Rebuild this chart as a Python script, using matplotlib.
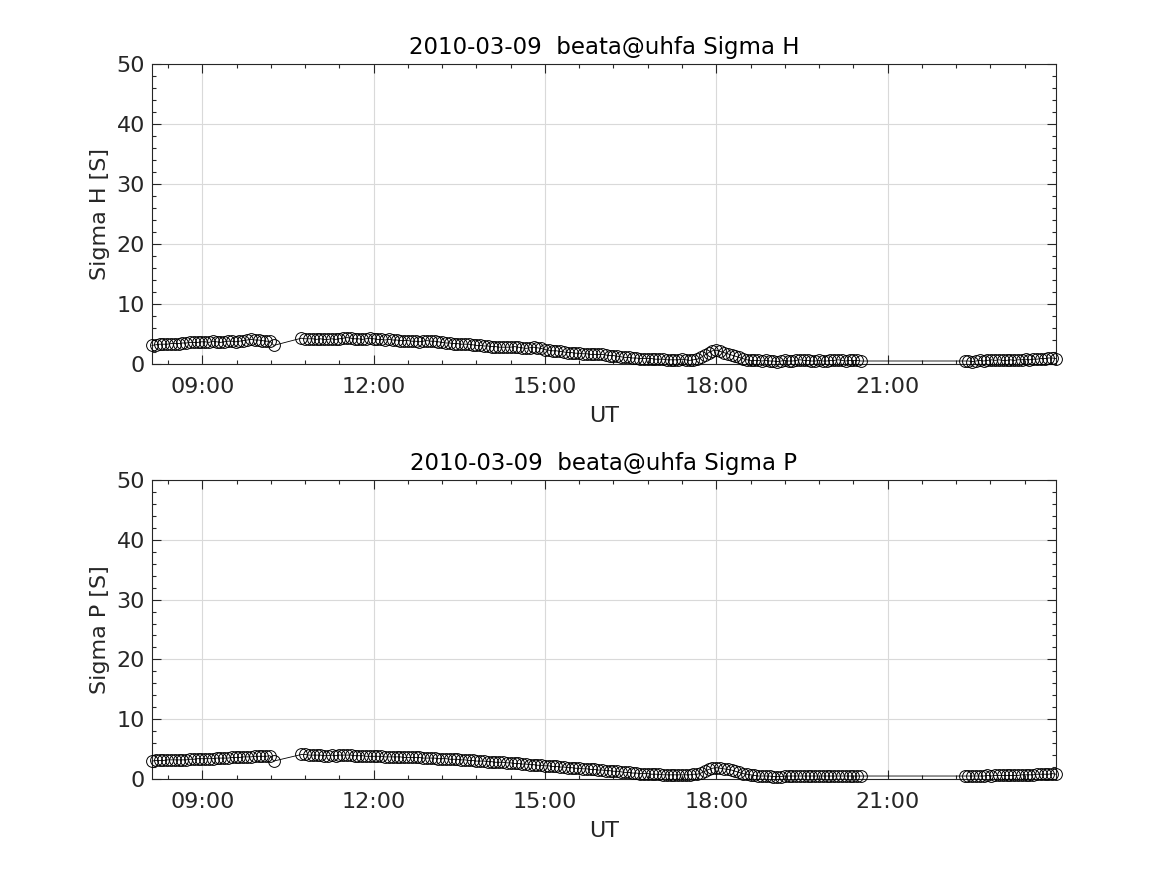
import numpy as np
import pandas as pd
import matplotlib
matplotlib.use("Agg")
import matplotlib.pyplot as plt
import matplotlib.dates as mdates
from matplotlib.ticker import MultipleLocator

# ---- time stamps (three observing segments, 4-min integration) ----
seg_starts = ["2010-03-09 08:07", "2010-03-09 10:44", "2010-03-09 22:21"]
seg_ends = ["2010-03-09 10:15", "2010-03-09 20:32", "2010-03-09 23:57"]

# ---- Sigma H [S] ----
sigma_h_seg1 = [3.1, 3.2, 3.3, 3.3, 3.3, 3.4, 3.4, 3.4, 3.5, 3.5, 3.6, 3.6, 3.6, 3.7,
                3.7, 3.6, 3.8, 3.7, 3.6, 3.7, 3.8, 3.8, 3.7, 3.8, 3.9, 4.0, 4.1, 4.0,
                4.0, 3.9, 3.8, 3.8, 3.1]
sigma_h_seg2 = [4.3, 4.2, 4.2, 4.2, 4.1, 4.2, 4.1, 4.1, 4.2, 4.1, 4.2, 4.3, 4.4, 4.3, 4.2,
                4.2, 4.1, 4.2, 4.3, 4.2, 4.1, 4.1, 4.0, 4.1, 4.0, 4.0, 3.9, 3.9, 3.9, 3.8,
                3.8, 3.7, 3.8, 3.9, 3.8, 3.8, 3.7, 3.6, 3.5, 3.5, 3.4, 3.4, 3.3, 3.3, 3.3,
                3.2, 3.1, 3.1, 3.0, 3.0, 2.9, 2.9, 2.8, 2.8, 2.8, 2.8, 2.9, 2.8, 2.7, 2.6,
                2.7, 2.8, 2.7, 2.6, 2.4, 2.3, 2.2, 2.2, 2.1, 2.0, 1.9, 1.9, 1.8, 1.8, 1.7,
                1.7, 1.6, 1.6, 1.6, 1.6, 1.5, 1.4, 1.4, 1.3, 1.2, 1.1, 1.1, 1.0, 1.0, 0.9,
                0.9, 0.9, 0.9, 0.8, 0.8, 0.8, 0.7, 0.7, 0.7, 0.7, 0.8, 0.7, 0.6, 0.7, 0.8,
                1.1, 1.5, 1.9, 2.2, 2.3, 2.1, 1.9, 1.7, 1.5, 1.3, 1.1, 0.9, 0.7, 0.6, 0.6,
                0.6, 0.5, 0.6, 0.5, 0.5, 0.4, 0.5, 0.6, 0.5, 0.5, 0.6, 0.7, 0.6, 0.6, 0.5,
                0.5, 0.6, 0.5, 0.5, 0.6, 0.6, 0.7, 0.6, 0.5, 0.6, 0.6, 0.6, 0.5]
sigma_h_seg3 = [0.5, 0.5, 0.4, 0.5, 0.6, 0.5, 0.6, 0.7, 0.6, 0.7, 0.6, 0.6, 0.7,
                0.6, 0.7, 0.7, 0.8, 0.7, 0.8, 0.8, 0.9, 0.9, 1.0, 1.0, 0.9]

# ---- Sigma P [S] ----
sigma_p_seg1 = [3.0, 3.1, 3.1, 3.1, 3.2, 3.2, 3.2, 3.2, 3.2, 3.2, 3.3, 3.3, 3.4, 3.4,
                3.4, 3.4, 3.4, 3.5, 3.5, 3.5, 3.5, 3.6, 3.6, 3.6, 3.7, 3.7, 3.7, 3.8,
                3.8, 3.8, 3.8, 3.9, 3.0]
sigma_p_seg2 = [4.1, 4.1, 4.0, 4.0, 4.0, 4.0, 3.9, 3.9, 4.0, 3.9, 4.0, 4.0, 4.0, 4.0, 3.9,
                3.9, 3.9, 3.8, 3.8, 3.8, 3.8, 3.8, 3.7, 3.7, 3.7, 3.7, 3.7, 3.6, 3.6, 3.6,
                3.6, 3.6, 3.5, 3.5, 3.5, 3.5, 3.4, 3.4, 3.4, 3.3, 3.3, 3.3, 3.2, 3.2, 3.1,
                3.1, 3.0, 3.0, 3.0, 2.9, 2.9, 2.8, 2.8, 2.8, 2.7, 2.7, 2.6, 2.6, 2.5, 2.5,
                2.4, 2.4, 2.3, 2.3, 2.2, 2.2, 2.1, 2.1, 2.0, 2.0, 1.9, 1.9, 1.8, 1.8, 1.7,
                1.7, 1.6, 1.6, 1.5, 1.5, 1.4, 1.4, 1.3, 1.3, 1.2, 1.1, 1.1, 1.0, 1.0, 0.9,
                0.9, 0.9, 0.8, 0.8, 0.8, 0.7, 0.7, 0.7, 0.7, 0.7, 0.7, 0.7, 0.7, 0.8, 0.8,
                1.0, 1.3, 1.6, 1.8, 1.9, 1.8, 1.7, 1.6, 1.5, 1.3, 1.1, 0.9, 0.8, 0.7, 0.6,
                0.5, 0.5, 0.5, 0.5, 0.4, 0.4, 0.4, 0.5, 0.5, 0.5, 0.5, 0.5, 0.5, 0.5, 0.5,
                0.5, 0.5, 0.5, 0.5, 0.5, 0.5, 0.5, 0.5, 0.5, 0.5, 0.5, 0.5, 0.5]
sigma_p_seg3 = [0.5, 0.5, 0.5, 0.5, 0.5, 0.5, 0.6, 0.5, 0.6, 0.6, 0.6, 0.6, 0.6,
                0.6, 0.6, 0.7, 0.7, 0.7, 0.7, 0.8, 0.8, 0.8, 0.8, 0.9, 0.8]

titles = ["2010-03-09  beata@uhfa Sigma H", "2010-03-09  beata@uhfa Sigma P"]
ylabels = ["Sigma H [S]", "Sigma P [S]"]
xlabel = "UT"

times = pd.DatetimeIndex(np.concatenate([
    pd.date_range(s, e, freq="4min").values for s, e in zip(seg_starts, seg_ends)]))
sigma_h = np.array(sigma_h_seg1 + sigma_h_seg2 + sigma_h_seg3)
sigma_p = np.array(sigma_p_seg1 + sigma_p_seg2 + sigma_p_seg3)

txt = (0.15, 0.15, 0.15)
plt.rcParams['font.family'] = ['DejaVu Sans']
fig = plt.figure(figsize=(11.67, 8.75), dpi=100)
rects = [[0.1302, 0.584, 0.7747, 0.3429], [0.1302, 0.1097, 0.7747, 0.3417]]

for rect, y, title, ylab in zip(rects, [sigma_h, sigma_p], titles, ylabels):
    ax = fig.add_axes(rect)
    ax.plot(times, y, '-', color='black', linewidth=0.6, marker='o', markersize=8.5,
            markerfacecolor='none', markeredgecolor='black', markeredgewidth=0.7,
            clip_on=False, zorder=3)
    ax.set_xlim(times[0], times[-1])
    ax.set_ylim(0, 50)
    ax.yaxis.set_major_locator(MultipleLocator(10))
    ax.yaxis.set_minor_locator(MultipleLocator(2))
    ax.xaxis.set_major_locator(mdates.HourLocator(byhour=[9, 12, 15, 18, 21]))
    ax.xaxis.set_minor_locator(MultipleLocator(0.025))
    ax.xaxis.set_major_formatter(mdates.DateFormatter('%H:%M'))
    ax.grid(True, which='major', color=(0.85, 0.85, 0.85), linewidth=0.8)
    ax.set_axisbelow(True)
    ax.tick_params(which='both', direction='in', top=True, right=True,
                   labelsize=16, colors=txt, labelcolor=txt)
    ax.tick_params(axis='x', which='major', pad=9)
    ax.tick_params(axis='y', which='major', pad=5)
    ax.tick_params(which='major', length=6.5, width=0.8)
    ax.tick_params(which='minor', length=3, width=0.8)
    for sp in ax.spines.values():
        sp.set_color(txt)
        sp.set_linewidth(0.8)
    ax.set_title(title, fontsize=16.5, color='black', pad=7)
    ax.set_xlabel(xlabel, fontsize=16, color=txt, labelpad=7)
    ax.set_ylabel(ylab, fontsize=16, color=txt, labelpad=5)

fig.savefig("out.png", dpi=100, facecolor='white')
